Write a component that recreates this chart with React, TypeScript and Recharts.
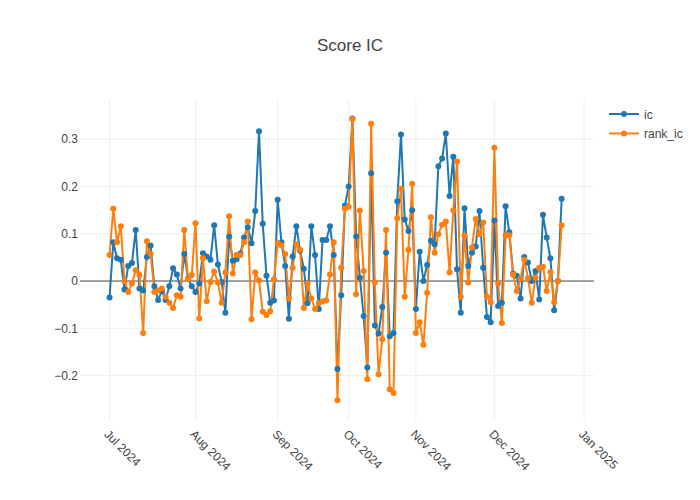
import React from 'react';
import { LineChart, Line, XAxis, YAxis, ReferenceLine } from 'recharts';

// trading days (weekends and CN holidays skipped, so x is evenly spaced per session)
const tradeDates = [
  '2024-07-01', '2024-07-02', '2024-07-03', '2024-07-04', '2024-07-05', '2024-07-08', '2024-07-09', '2024-07-10',
  '2024-07-11', '2024-07-12', '2024-07-15', '2024-07-16', '2024-07-17', '2024-07-18', '2024-07-19', '2024-07-22',
  '2024-07-23', '2024-07-24', '2024-07-25', '2024-07-26', '2024-07-29', '2024-07-30', '2024-07-31',
  '2024-08-01', '2024-08-02', '2024-08-05', '2024-08-06', '2024-08-07', '2024-08-08', '2024-08-09', '2024-08-12',
  '2024-08-13', '2024-08-14', '2024-08-15', '2024-08-16', '2024-08-19', '2024-08-20', '2024-08-21', '2024-08-22',
  '2024-08-23', '2024-08-26', '2024-08-27', '2024-08-28', '2024-08-29', '2024-08-30',
  '2024-09-02', '2024-09-03', '2024-09-04', '2024-09-05', '2024-09-06', '2024-09-09', '2024-09-10', '2024-09-11',
  '2024-09-12', '2024-09-13', '2024-09-18', '2024-09-19', '2024-09-20', '2024-09-23', '2024-09-24', '2024-09-25',
  '2024-09-26', '2024-09-27', '2024-09-30',
  '2024-10-08', '2024-10-09', '2024-10-10', '2024-10-11', '2024-10-14', '2024-10-15', '2024-10-16', '2024-10-17',
  '2024-10-18', '2024-10-21', '2024-10-22', '2024-10-23', '2024-10-24', '2024-10-25', '2024-10-28', '2024-10-29',
  '2024-10-30', '2024-10-31',
  '2024-11-01', '2024-11-04', '2024-11-05', '2024-11-06', '2024-11-07', '2024-11-08', '2024-11-11', '2024-11-12',
  '2024-11-13', '2024-11-14', '2024-11-15', '2024-11-18', '2024-11-19', '2024-11-20', '2024-11-21', '2024-11-22',
  '2024-11-25', '2024-11-26', '2024-11-27', '2024-11-28', '2024-11-29',
  '2024-12-02', '2024-12-03', '2024-12-04', '2024-12-05', '2024-12-06', '2024-12-09', '2024-12-10', '2024-12-11',
  '2024-12-12', '2024-12-13', '2024-12-16', '2024-12-17', '2024-12-18', '2024-12-19', '2024-12-20', '2024-12-23',
  '2024-12-24', '2024-12-25', '2024-12-26',
];

const icValues = [
  -0.035, 0.082, 0.048, 0.045, -0.018, 0.032, 0.038, 0.108, -0.016, -0.02,
  0.051, 0.075, -0.011, -0.04, -0.021, -0.04, -0.011, 0.027, 0.014, -0.016,
  0.057, 0.005, -0.011, -0.023, -0.005, 0.059, 0.052, 0.045, 0.118, 0.035,
  -0.002, -0.067, 0.094, 0.043, 0.046, 0.058, 0.092, 0.114, 0.08, 0.148,
  0.317, 0.121, 0.011, -0.046, -0.041, 0.172, 0.082, 0.032, -0.08, 0.052,
  0.116, 0.064, 0.026, -0.047, 0.116, 0.055, -0.059, 0.087, 0.087, 0.116,
  0.055, -0.186, -0.03, 0.16, 0.2, 0.344, 0.094, 0.007, -0.074, -0.183,
  0.228, -0.094, -0.111, -0.055, 0.06, -0.117, -0.11, 0.169, 0.31, 0.13,
  0.106, 0.15, -0.059, 0.062, 0.0, 0.034, 0.085, 0.078, 0.243, 0.259,
  0.312, 0.18, 0.263, 0.025, -0.067, 0.154, 0.032, 0.06, 0.073, 0.148,
  0.028, -0.076, -0.087, 0.128, -0.053, -0.046, 0.158, 0.103, 0.016, 0.011,
  -0.037, 0.051, 0.039, 0.0, 0.021, -0.039, 0.14, 0.092, 0.048, -0.062,
  0.0, 0.174,
];

const rankIcValues = [
  0.055, 0.153, 0.082, 0.116, 0.0, -0.023, -0.005, 0.023, 0.013, -0.11,
  0.084, 0.057, -0.023, -0.02, -0.016, -0.033, -0.046, -0.057, -0.03, -0.033,
  0.108, 0.004, 0.013, 0.122, -0.079, 0.048, -0.043, -0.002, 0.02, -0.003,
  -0.046, 0.018, 0.137, 0.016, 0.055, 0.055, 0.082, 0.126, -0.081, 0.018,
  0.001, -0.065, -0.072, -0.064, 0.004, 0.08, 0.075, 0.057, -0.037, 0.028,
  0.078, 0.066, -0.057, -0.005, -0.037, -0.059, -0.047, -0.043, -0.041, 0.014,
  0.082, -0.252, 0.028, 0.153, 0.157, 0.343, -0.028, 0.149, 0.021, -0.208,
  0.333, -0.003, -0.197, -0.123, 0.108, -0.229, -0.237, 0.133, 0.195, -0.033,
  0.066, 0.206, -0.11, -0.087, -0.135, -0.025, 0.135, 0.06, 0.099, 0.119,
  0.126, 0.018, 0.149, 0.253, -0.033, 0.096, -0.003, 0.071, 0.131, 0.099,
  0.124, -0.033, -0.045, 0.282, -0.005, -0.089, 0.097, 0.097, 0.014, -0.021,
  0.005, 0.045, 0.006, -0.046, 0.007, 0.028, 0.03, -0.021, 0.019, -0.045,
  0.0, 0.118,
];

// month ticks sit at the session index where each month starts
const monthTickIdx = [0, 23, 45, 64, 82, 103, 127];
const monthLabels = ['Jul 2024', 'Aug 2024', 'Sep 2024', 'Oct 2024', 'Nov 2024', 'Dec 2024', 'Jan 2025'];
const yTicks = [-0.2, -0.1, 0, 0.1, 0.2, 0.3];

const seriesKeys = ['ic', 'rank_ic'];
const seriesColors = ['#1f77b4', '#ff7f0e'];

const data = tradeDates.map((date, i) => ({
  i,
  date,
  ic: icValues[i],
  rank_ic: rankIcValues[i],
}));

const FONT = '"Liberation Sans", Arial, sans-serif';

function DateTick(props: any) {
  const { x, y, payload } = props;
  const label = monthLabels[monthTickIdx.indexOf(payload.value)];
  const tx = x - 6;
  const ty = y + 15;
  return (
    <text
      x={tx}
      y={ty}
      transform={`rotate(45 ${tx} ${ty})`}
      fill="#444"
      fontSize={12}
      fontFamily={FONT}
      textAnchor="start"
    >
      {label}
    </text>
  );
}

const fmtY = (v: number) => (v === 0 ? '0' : v < 0 ? '\u2212' + Math.abs(v) : String(v));

export default function App() {
  return (
    <div style={{ position: 'absolute', left: 0, top: 0, width: 700, height: 500, background: '#fff' }}>
      <LineChart width={700} height={500} data={data} margin={{ top: 100, right: 106, bottom: 0, left: 0 }}>
        <XAxis
          dataKey="i"
          type="number"
          domain={[-7.91, 129.66]}
          allowDataOverflow
          ticks={monthTickIdx}
          interval={0}
          height={80}
          axisLine={false}
          tickLine={false}
          tickSize={0}
          tickMargin={0}
          tick={<DateTick />}
        />
        <YAxis
          type="number"
          domain={[-0.294, 0.383]}
          allowDataOverflow
          ticks={yTicks}
          width={80}
          axisLine={false}
          tickLine={false}
          tickSize={0}
          tickMargin={2}
          tickFormatter={fmtY}
          tick={{ fill: '#444', fontSize: 12, fontFamily: FONT }}
        />
        {monthTickIdx.map((t) => (
          <ReferenceLine key={'gx' + t} x={t} stroke="#eee" strokeWidth={1} />
        ))}
        {yTicks
          .filter((t) => t !== 0)
          .map((t) => (
            <ReferenceLine key={'gy' + t} y={t} stroke="#eee" strokeWidth={1} />
          ))}
        <ReferenceLine y={0} stroke="#444" strokeWidth={1} />
        {seriesKeys.map((k, idx) => (
          <Line
            key={k}
            dataKey={k}
            type="linear"
            stroke={seriesColors[idx]}
            strokeWidth={2}
            dot={{ r: 3, fill: seriesColors[idx], stroke: 'none' }}
            activeDot={false}
            isAnimationActive={false}
          />
        ))}
      </LineChart>
      <svg
        width={700}
        height={500}
        style={{ position: 'absolute', left: 0, top: 0, pointerEvents: 'none' }}
      >
        <text x={350} y={51} textAnchor="middle" fontSize={17} fill="#444" fontFamily={FONT}>
          Score IC
        </text>
        {seriesKeys.map((k, idx) => {
          const cy = 114 + idx * 19.5;
          return (
            <g key={k}>
              <line x1={609} x2={639} y1={cy} y2={cy} stroke={seriesColors[idx]} strokeWidth={2} />
              <circle cx={624} cy={cy} r={3} fill={seriesColors[idx]} />
              <text x={644} y={cy + 4.5} fontSize={12} fill="#444" fontFamily={FONT}>
                {k}
              </text>
            </g>
          );
        })}
      </svg>
    </div>
  );
}
